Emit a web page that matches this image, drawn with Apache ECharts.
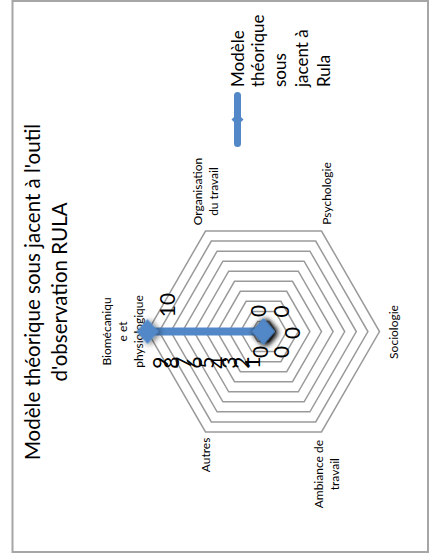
<!DOCTYPE html>
<html><head><meta charset="utf-8">
<script src="https://cdn.jsdelivr.net/npm/echarts@6/dist/echarts.min.js"></script>
<style>
html,body{margin:0;padding:0;background:#fff;overflow:hidden;width:429px;height:557px;}
#chart{position:absolute;left:0;top:0;width:557px;height:429px;transform-origin:0 0;transform:translate(0,557px) rotate(-90deg);}
</style></head><body><div id="chart"></div>
<script>
// ---- data ----
const titleLines = ["Modèle théorique sous jacent à l'outil", "d'observation RULA"];
const seriesName = "Modèle théorique sous jacent à Rula";
const legendLines = ["Modèle", "théorique", "sous", "jacent à", "Rula"];
const categories = ["Biomécanique et physiologique", "Organisation du travail", "Psychologie", "Sociologie", "Ambiance de travail", "Autres"];
const categoryLines = [["Biomécaniqu", "e et", "physiologique"], ["Organisation", "du travail"], ["Psychologie"], ["Sociologie"], ["Ambiance de", "travail"], ["Autres"]];
const values = [10, 0, 0, 0, 0, 0];
const axisMin = 0, axisMax = 10, axisInterval = 1;

// ---- style (per category, in category order) ----
const nameGaps = [25.5, 0, 9.4, 14.3, 9, 0];
const nameDx = [0, 39.5, 29.4, -0.5, -34.4, -23];
const labelShift = [[26.5, 18.5], [20.5, -6.5], [20, 16.5], [-1.5, 27.5], [-20.5, 16.5], [-20.5, -4.5]];
const FONT = 'Lato';
const BLUE = '#5288C8';

function padFor(s) { // [top,right,bottom,left]
  const dx = s[0], dy = s[1];
  return [dy > 0 ? 2 * dy : 0, dx < 0 ? -2 * dx : 0, dy < 0 ? -2 * dy : 0, dx > 0 ? 2 * dx : 0];
}

// ECharts lays radar indicators counter-clockwise; the reference runs clockwise.
const order = [0, 5, 4, 3, 2, 1];
const indicators = order.map(function (i, k) {
  const ind = {
    name: categories[i], min: axisMin, max: axisMax, nameGap: nameGaps[i], nameMoveOverlap: false,
    nameTextStyle: { align: 'center', verticalAlign: 'middle', padding: padFor([nameDx[i], 0]) }
  };
  if (k === 0) {
    ind.axisLabel = { show: true, hideOverlap: false, color: '#000', fontFamily: FONT, fontSize: 21, margin: 25 };
  }
  return ind;
});
const orderedValues = order.map(function (i) { return values[i]; });
const rich = {};
order.forEach(function (i, k) {
  rich['d' + k] = { fontFamily: FONT, fontSize: 21, color: '#000', padding: padFor(labelShift[i]) };
});

const chart = echarts.init(document.getElementById('chart'), null, { renderer: 'svg', width: 557, height: 429 });
chart.setOption({
  backgroundColor: '#fff',
  animation: false,
  title: {
    text: titleLines.join('\n'), left: 265, top: 18, textAlign: 'center', padding: 0,
    textStyle: { fontFamily: FONT, fontSize: 20.5, fontWeight: 'normal', color: '#000', lineHeight: 27 }
  },
  legend: {
    data: [seriesName], left: 410, top: 229, padding: 0, selectedMode: false,
    itemWidth: 55, itemHeight: 12,
    icon: 'path://M3.5,2.5 L51.5,2.5 A3.5,3.5 0 0 1 51.5,9.5 L3.5,9.5 A3.5,3.5 0 0 1 3.5,2.5 Z M27.5,0 L33.5,6 L27.5,12 L21.5,6 Z',
    itemStyle: { color: BLUE },
    formatter: function () {
      return legendLines.map(function (t, k) { return '{' + (k === 0 ? 'f' : 'r') + '|' + t + '}'; }).join('\n');
    },
    textStyle: {
      fontFamily: FONT, fontSize: 17, color: '#000',
      rich: {
        f: { fontFamily: FONT, fontSize: 17, color: '#000', padding: [88, 0, 0, 0] },
        r: { fontFamily: FONT, fontSize: 17, color: '#000', lineHeight: 22 }
      }
    }
  },
  graphic: [{
    type: 'rect', shape: { x: 5, y: 12.5, width: 551, height: 415.5 }, silent: true,
    style: { fill: 'none', stroke: '#a6a6a6', lineWidth: 2 }
  }],
  radar: {
    center: [225.5, 263.5], radius: 116, startAngle: 90, shape: 'polygon',
    splitNumber: (axisMax - axisMin) / axisInterval,
    axisName: {
      color: '#000', fontFamily: FONT, fontSize: 12, lineHeight: 16,
      formatter: function (name) { return categoryLines[categories.indexOf(name)].join('\n'); }
    },
    axisLine: { show: false }, axisTick: { show: false }, axisLabel: { show: false },
    splitArea: { show: false },
    splitLine: { lineStyle: { color: '#9a9a9a', width: 1.5 } },
    indicator: indicators
  },
  series: [{
    type: 'radar', name: seriesName,
    symbol: 'diamond', symbolSize: [25, 22],
    lineStyle: { color: BLUE, width: 8 },
    itemStyle: { color: BLUE, shadowBlur: 6, shadowColor: 'rgba(0,0,0,0.6)', shadowOffsetX: -1, shadowOffsetY: 2 },
    label: {
      show: true, position: 'inside',
      formatter: function (p) { return '{d' + p.dimensionIndex + '|' + p.value + '}'; },
      rich: rich
    },
    data: [{ name: seriesName, value: orderedValues }]
  }]
});
</script></body></html>
